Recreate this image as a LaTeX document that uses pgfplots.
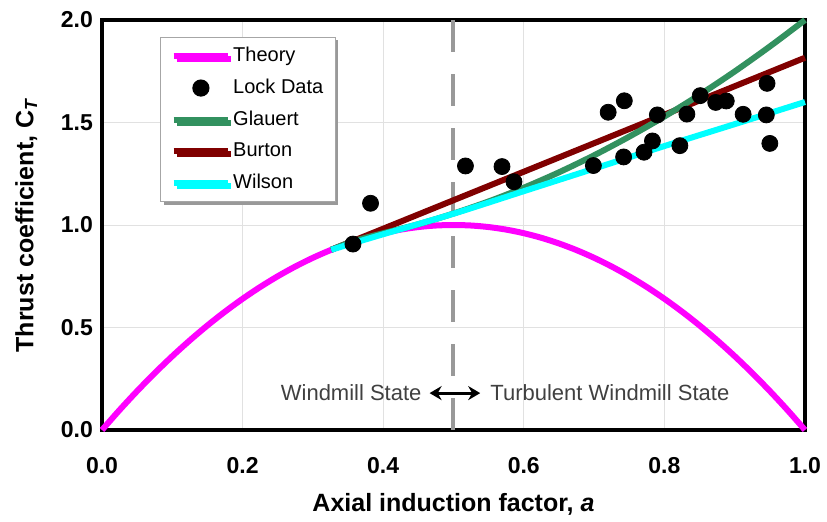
\documentclass[border=0pt]{standalone}
\usepackage{fontspec}
\setmainfont{Liberation Sans}
\usepackage{pgfplots}
\pgfplotsset{compat=1.18}
\usetikzlibrary{arrows.meta,shadows}

\definecolor{theory}{RGB}{255,0,255}
\definecolor{glauert}{RGB}{50,145,95}
\definecolor{burton}{RGB}{128,0,0}
\definecolor{wilson}{RGB}{0,255,255}
\definecolor{gridc}{RGB}{225,225,225}
\definecolor{annot}{RGB}{64,64,64}

\begin{document}
\begin{tikzpicture}
\begin{axis}[
  scale only axis, width=351.5pt, height=205pt,
  xmin=0, xmax=1, ymin=0, ymax=2,
  xtick={0,0.2,...,1}, ytick={0,0.5,...,2},
  grid=major, major grid style={gridc, line width=0.5pt},
  major tick length=0pt,
  axis line style={black, line width=2pt},
  clip=false,
  /pgf/number format/.cd, fixed, fixed zerofill, precision=1, assume math mode=true,
  /pgfplots/.cd,
  tick label style={font=\fontsize{11.5}{13}\selectfont\bfseries},
  xticklabel style={yshift=-10pt},
  yticklabel style={xshift=-1pt},
  xlabel={\bfseries Axial induction factor, \textit{a}},
  ylabel={\bfseries Thrust coefficient, C\textsubscript{\textit{T}}},
  label style={font=\fontsize{12.5}{14}\selectfont},
  xlabel style={yshift=-3pt},
  ylabel style={yshift=5pt},
  legend cell align=left,
  legend style={at={(rel axis cs:0.0825,0.959)}, anchor=north west,
    draw=gray!70, fill=white, line width=0.6pt,
    font=\fontsize{10}{12}\selectfont, row sep=3.2pt,
    inner xsep=5pt, inner ysep=3pt,
    nodes={inner xsep=1pt},
    drop shadow={shadow xshift=1.5pt, shadow yshift=-1.5pt, fill=gray!80, opacity=1}},
  legend image code/.code={\draw[mark repeat=2,mark phase=2,#1]
    plot coordinates {(0cm,0cm) (0.48cm,0cm) (0.96cm,0cm)};},
]
\addlegendimage{theory, line width=3pt}
\addlegendentry{Theory}
\addlegendimage{only marks, mark=*, mark size=4pt, black}
\addlegendentry{Lock Data}
\addlegendimage{glauert, line width=3pt}
\addlegendentry{Glauert}
\addlegendimage{burton, line width=3pt}
\addlegendentry{Burton}
\addlegendimage{wilson, line width=3pt}
\addlegendentry{Wilson}

% state boundary
\addplot[forget plot, gray!80, line width=2pt, dash pattern=on 16pt off 11pt]
  coordinates {(0.5,2) (0.5,0)};

% momentum theory
\addplot[forget plot, theory, line width=3pt, smooth] coordinates {
(0,0) (0.025,0.0975) (0.05,0.19) (0.075,0.2775) (0.1,0.36) (0.125,0.4375)
(0.15,0.51) (0.175,0.5775) (0.2,0.64) (0.225,0.6975) (0.25,0.75) (0.275,0.7975)
(0.3,0.84) (0.325,0.8775) (0.35,0.91) (0.375,0.9375) (0.4,0.96) (0.425,0.9775)
(0.45,0.99) (0.475,0.9975) (0.5,1.0) (0.525,0.9975) (0.55,0.99) (0.575,0.9775)
(0.6,0.96) (0.625,0.9375) (0.65,0.91) (0.675,0.8775) (0.7,0.84) (0.725,0.7975)
(0.75,0.75) (0.775,0.6975) (0.8,0.64) (0.825,0.5775) (0.85,0.51) (0.875,0.4375)
(0.9,0.36) (0.925,0.2775) (0.95,0.19) (0.975,0.0975) (1,0)};

% Burton
\addplot[forget plot, burton, line width=3pt] coordinates {(0.326,0.879) (1,1.816)};

% Glauert
\addplot[forget plot, glauert, line width=3pt, smooth] coordinates {
(0.326,0.879) (0.35,0.912) (0.375,0.938) (0.4,0.960) (0.45,1.004) (0.5,1.056)
(0.55,1.115) (0.6,1.182) (0.65,1.257) (0.7,1.340) (0.75,1.431) (0.8,1.529)
(0.85,1.635) (0.9,1.749) (0.95,1.871) (1,2.0)};

% Wilson
\addplot[forget plot, wilson, line width=3pt, smooth] coordinates {
(0.326,0.879) (0.35,0.904) (0.4,0.955) (0.5,1.055) (0.6,1.165) (0.7,1.275)
(0.8,1.385) (0.9,1.492) (1,1.60)};

% Lock data
\addplot[forget plot, only marks, mark=*, mark size=4pt, black] coordinates {
(0.357,0.907) (0.382,1.106) (0.517,1.288) (0.569,1.285) (0.586,1.211)
(0.699,1.290) (0.720,1.550) (0.743,1.606) (0.742,1.332) (0.771,1.355)
(0.783,1.410) (0.790,1.537) (0.822,1.387) (0.832,1.541) (0.851,1.631)
(0.873,1.598) (0.888,1.605) (0.912,1.540) (0.946,1.691) (0.945,1.537)
(0.950,1.398)};

\node[anchor=east, text=annot, font=\fontsize{11}{13}\selectfont, inner sep=0pt]
  at (axis cs:0.455,0.18) {Windmill State};
\node[anchor=west, text=annot, font=\fontsize{11}{13}\selectfont, inner sep=0pt]
  at (axis cs:0.552,0.18) {Turbulent Windmill State};
\draw[{Stealth[length=6pt,width=7pt]}-{Stealth[length=6pt,width=7pt]}, line width=1.5pt]
  (axis cs:0.466,0.18) -- (axis cs:0.538,0.18);

\coordinate (bl) at (rel axis cs:0,0);
\end{axis}
\pgfresetboundingbox
\path (bl) ++(-51pt,-45.5pt) rectangle ++(413.5pt,260.5pt);
\end{tikzpicture}
\end{document}
